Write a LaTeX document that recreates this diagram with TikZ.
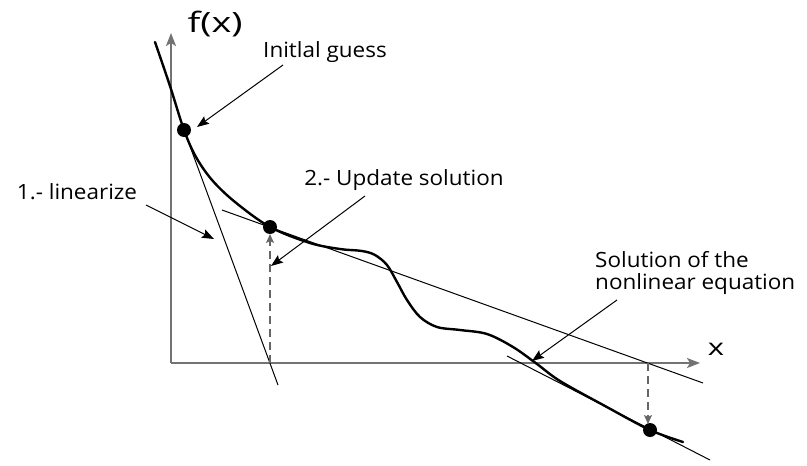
\documentclass[tikz,border=0pt]{standalone}
\usepackage{fontspec}
\setmainfont{Open Sans}
\usetikzlibrary{arrows.meta}
\begin{document}
\begin{tikzpicture}[x=1pt,y=-1pt,
  axis/.style={draw=black!55, line width=1.6pt, -{Stealth[length=13pt,width=10pt,inset=3pt]}},
  curve/.style={line width=2.4pt, line join=round, line cap=round},
  tangent/.style={line width=1pt},
  pointer/.style={line width=1pt, -{Stealth[length=12pt,width=9pt,inset=2pt]}},
  dashedarrow/.style={draw=black!60, line width=1.5pt, dash pattern=on 8pt off 5pt, -{Stealth[length=9pt,width=8pt,inset=2pt]}},
  dot/.style={circle, fill=black, inner sep=0pt, minimum size=14pt},
  lbl/.style={font=\fontsize{21}{22}\selectfont, inner sep=0pt},
  axlbl/.style={font=\fontsize{28}{30}\selectfont, inner sep=0pt}
]
\useasboundingbox (0,0) rectangle (807,466);
\fill[white] (0,0) rectangle (807,466);

% axes
\coordinate (O) at (171,363);
\coordinate (ytop) at (171,33);
\coordinate (xend) at (700,363);
\draw[axis] (O) -- (ytop);
\draw[axis] (O) -- (xend);
\node[axlbl] (fx) at (215,24) {\scalebox{1.35}[1]{f(x)}};
\node[axlbl, font=\fontsize{23}{25}\selectfont] (xl) at (716,349) {\scalebox{1.35}[1]{x}};

% tangent lines
\coordinate (t1a) at (184,130);
\coordinate (t1b) at (278,385);
\draw[tangent] (t1a) -- (t1b);
\coordinate (t2a) at (222,210);
\coordinate (t2b) at (703,383);
\draw[tangent] (t2a) -- (t2b);
\coordinate (t3a) at (507,356);
\coordinate (t3b) at (710,460);
\draw[tangent] (t3a) -- (t3b);

% curve
\draw[curve] plot[smooth, tension=0.55] coordinates {
 (155,42) (170,86) (184,130) (196,157) (212,180) (235,202) (270,227)
 (310,243) (340,249) (362,251) (375,255) (387,265) (397,282) (407,300)
 (420,317) (437,327) (460,330) (487,334) (513,347) (537,364) (560,381)
 (605,406) (650,430) (683,442)};

% points
\node[dot] (p1) at (184,130) {};
\node[dot] (p2) at (270,227) {};
\node[dot] (p3) at (650,430) {};

% dashed projections
\coordinate (d1) at (270,363);
\coordinate (d1t) at (270,234);
\draw[dashedarrow] (d1) -- (d1t);
\coordinate (d2) at (648,363);
\coordinate (d2t) at (648,424);
\draw[dashedarrow] (d2) -- (d2t);

% labels and pointers
\node[lbl] (guess) at (325,52) {\scalebox{1.07}[1]{Initlal guess}};
\coordinate (g0) at (283,65);
\coordinate (g1) at (197,127);
\draw[pointer] (g0) -- (g1);

\node[lbl] (lin) at (77,192) {\scalebox{1.07}[1]{1.- linearize}};
\coordinate (l0) at (146,205);
\coordinate (l1) at (214,239);
\draw[pointer] (l0) -- (l1);

\node[lbl] (upd) at (404,180) {\scalebox{1.07}[1]{2.- Update solution}};
\coordinate (u0) at (365,196);
\coordinate (u1) at (271,266);
\draw[pointer] (u0) -- (u1);

\node[lbl, align=left, anchor=west] (sol) at (595,273) {\scalebox{1.07}[1]{Solution of the}\\\scalebox{1.07}[1]{nonlinear equation}};
\coordinate (s0) at (617,300);
\coordinate (s1) at (532,361);
\draw[pointer] (s0) -- (s1);
\end{tikzpicture}
\end{document}
